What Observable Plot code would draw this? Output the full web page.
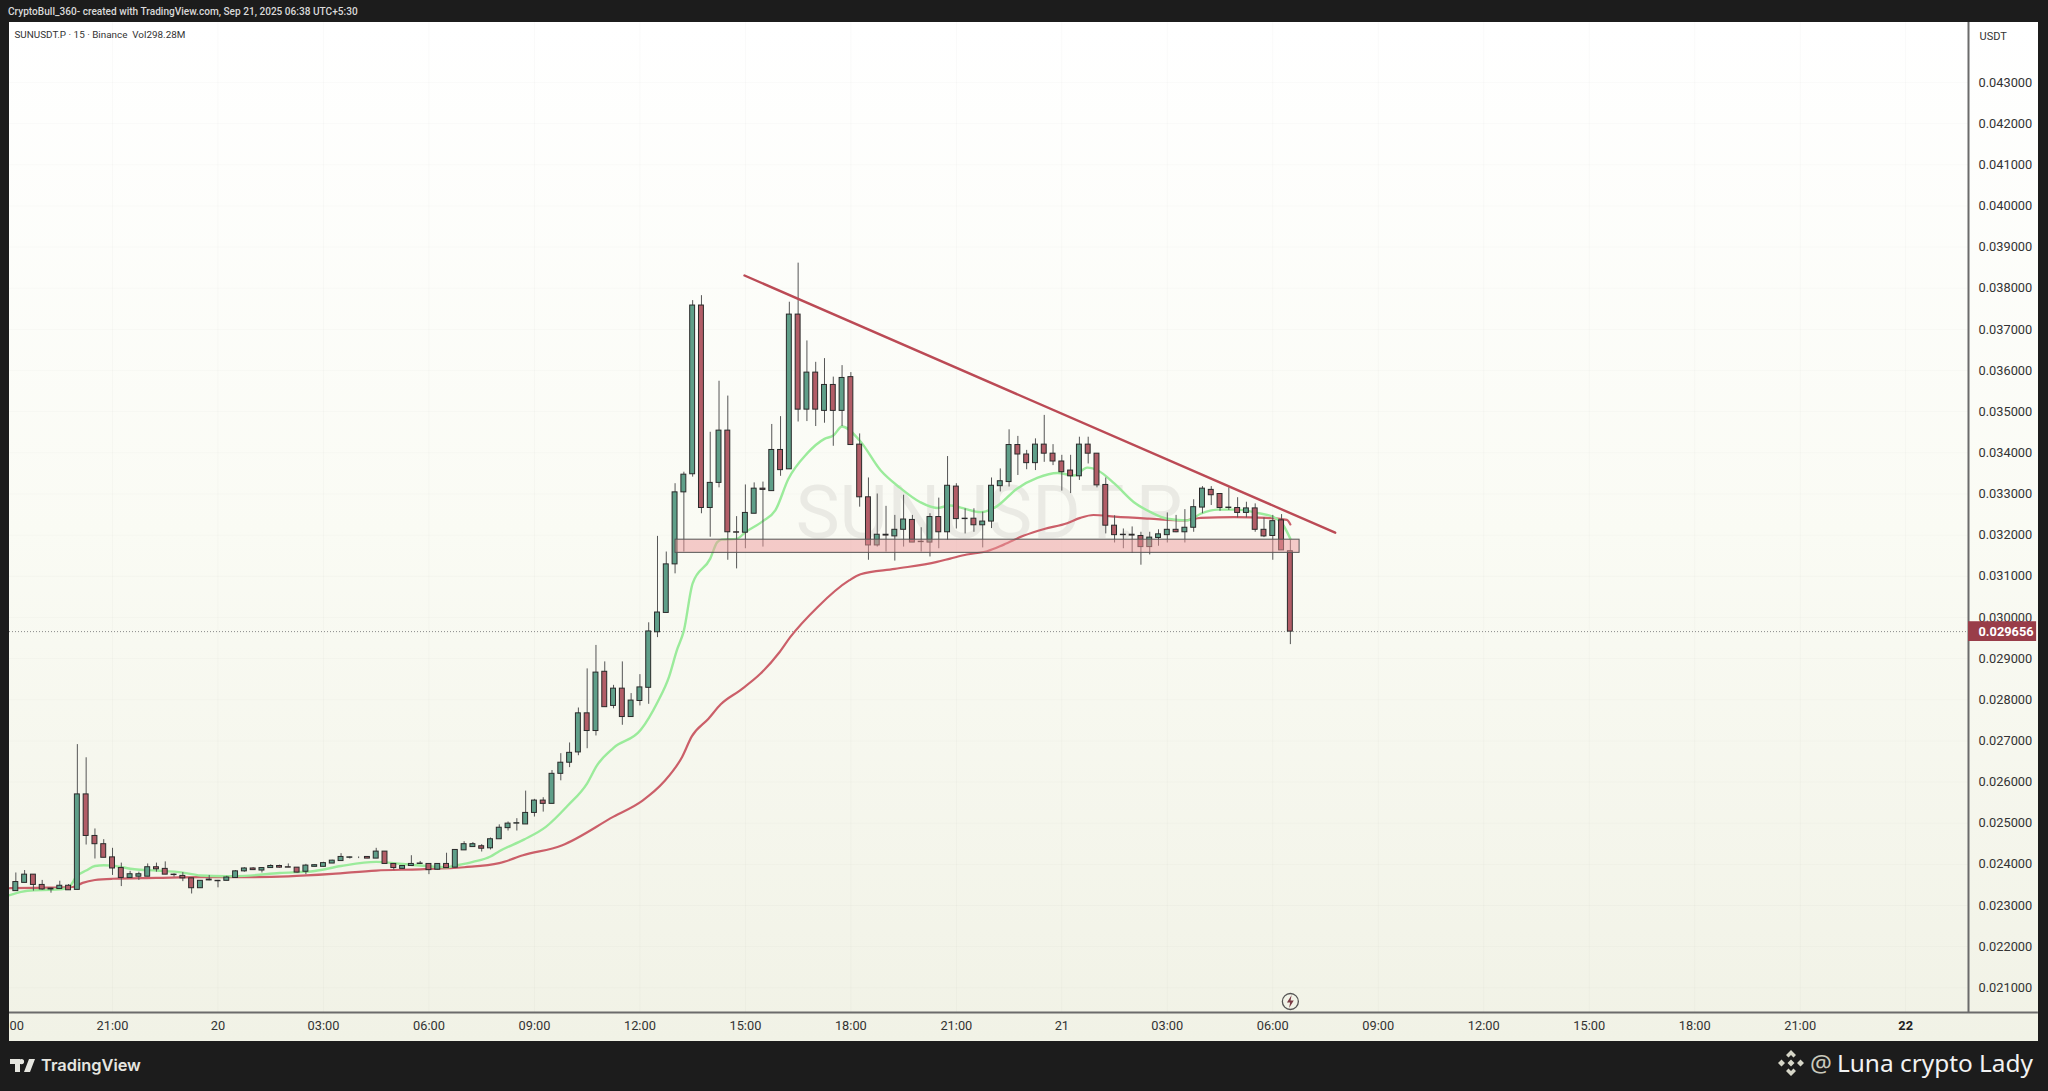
<!DOCTYPE html>
<html><head><meta charset="utf-8">
<script src="https://cdn.jsdelivr.net/npm/d3@7"></script>
<script src="https://cdn.jsdelivr.net/npm/@observablehq/plot@0.6"></script>
<style>
html,body{margin:0;padding:0;width:2048px;height:1091px;overflow:hidden;background:#1c1c1c}
#head{position:absolute;left:8px;top:6px;font:500 10.1px Roboto,sans-serif;color:#d9d9d9;white-space:nowrap}
#chart{position:absolute;left:9px;top:22px}
#tv{position:absolute;left:10px;top:1055px;font:600 16.4px Inter,sans-serif;color:#e6e6e0;display:flex;align-items:center;gap:6px}
#luna{position:absolute;right:15px;top:1046px;font:400 24.4px "Noto Sans",sans-serif;color:#f2f2f2;display:flex;align-items:center;gap:5px;white-space:nowrap}
#luna .at{color:#c9c9bd}
</style></head><body>
<div id="head">CryptoBull_360- created with TradingView.com, Sep 21, 2025 06:38 UTC+5:30</div>
<div id="chart"></div>
<div id="tv"><svg width="25" height="13" viewBox="0 0 25 13"><path fill="#e6e6e0" d="M0 0h10v13H5V5H0zM11.5 0a2.6 2.6 0 1 1 0 5.2a2.6 2.6 0 0 1 0-5.2zM19 0h6l-5 13h-6z"/></svg><span>TradingView</span></div>
<div id="luna"><svg width="28" height="28" viewBox="0 0 28 28"><g fill="#d6d6c8"><path d="M14 1l5 5-2.5 2.5L14 6l-2.5 2.5L9 6zM14 27l-5-5 2.5-2.5L14 22l2.5-2.5L19 22zM1 14l3.5-3.5L8 14l-3.5 3.5zM27 14l-3.5 3.5L20 14l3.5-3.5zM14 10.5l3.5 3.5-3.5 3.5-3.5-3.5z"/></g></svg><span class="at">@</span><span>Luna crypto Lady</span></div>
<script>
const symbolLegend = "SUNUSDT.P · 15 · Binance\u00a0 Vol298.28M";
const watermark = "SUNUSDT.P";
const currency = "USDT";
const firstIndex = -11;
const open = [0.02335,0.02355,0.02375,0.0235,0.02341,0.0234,0.02348,0.02338,0.0257,0.02469,0.02449,0.02417,0.02391,0.02367,0.0237,0.0237,0.02393,0.02389,0.02375,0.02372,0.02366,0.02342,0.02363,0.0236,0.0236,0.02367,0.02383,0.0239,0.02385,0.02391,0.02396,0.02393,0.02392,0.02382,0.02394,0.02394,0.02402,0.02408,0.02416,0.02417,0.02418,0.02414,0.02431,0.02401,0.02389,0.02396,0.02402,0.02401,0.02387,0.02401,0.02392,0.02434,0.02442,0.02444,0.02439,0.02461,0.02488,0.02499,0.02497,0.02525,0.02555,0.02547,0.0262,0.02647,0.02672,0.02767,0.02724,0.02868,0.02785,0.02827,0.02758,0.02797,0.02829,0.02964,0.03011,0.03129,0.03304,0.03348,0.03758,0.03266,0.03327,0.03454,0.03207,0.03206,0.03252,0.03313,0.03307,0.03407,0.0336,0.03736,0.03505,0.03595,0.03502,0.03565,0.03502,0.03584,0.0342,0.03292,0.03175,0.03201,0.03197,0.03213,0.03237,0.03184,0.03182,0.03244,0.03207,0.03318,0.0324,0.0324,0.03224,0.03233,0.03319,0.03329,0.03419,0.03396,0.03375,0.0342,0.03398,0.03379,0.03357,0.03343,0.0342,0.03398,0.03322,0.03223,0.032,0.03201,0.03198,0.03171,0.03193,0.032,0.03213,0.03207,0.03218,0.03267,0.0331,0.033,0.03266,0.03266,0.03254,0.03265,0.03213,0.03198,0.03236,0.03161];
const high = [0.02379,0.02385,0.02375,0.02361,0.02342,0.02359,0.02351,0.02691,0.02659,0.02486,0.0246,0.02439,0.02403,0.02383,0.02381,0.02401,0.02403,0.02406,0.02377,0.0238,0.02366,0.0236,0.02373,0.02361,0.02371,0.02385,0.02392,0.02392,0.02392,0.02399,0.02398,0.02401,0.02392,0.024,0.02399,0.02405,0.0241,0.02426,0.02418,0.02418,0.02419,0.02439,0.02431,0.02401,0.02397,0.02421,0.02407,0.02401,0.02402,0.02427,0.02436,0.02455,0.02453,0.02448,0.02464,0.02496,0.02503,0.02511,0.02578,0.02558,0.02562,0.02628,0.02669,0.02695,0.0278,0.02875,0.02932,0.02892,0.02835,0.02892,0.02815,0.02861,0.02987,0.03197,0.03159,0.03325,0.03353,0.0377,0.03782,0.0345,0.03574,0.03538,0.03245,0.03322,0.03327,0.03329,0.03469,0.03488,0.03766,0.03861,0.03672,0.0362,0.03629,0.03584,0.03612,0.03595,0.03446,0.03339,0.033,0.0327,0.03248,0.03297,0.03248,0.03218,0.03252,0.0329,0.03391,0.03325,0.03264,0.03264,0.03256,0.03339,0.03361,0.03456,0.0344,0.03406,0.03434,0.03491,0.0342,0.03394,0.03394,0.03438,0.03438,0.03398,0.03339,0.03247,0.03215,0.0322,0.03207,0.03207,0.03213,0.03254,0.03248,0.03262,0.03286,0.03318,0.03318,0.033,0.03315,0.03291,0.0328,0.03276,0.03242,0.03248,0.0325,0.03187];
const low = [0.02335,0.02355,0.02335,0.02337,0.0233,0.0234,0.02337,0.02338,0.02447,0.02413,0.02416,0.02373,0.02346,0.02367,0.02361,0.0237,0.02381,0.02375,0.02369,0.02358,0.02328,0.02342,0.0236,0.02343,0.0236,0.02367,0.02381,0.02385,0.02379,0.02391,0.02391,0.02392,0.02379,0.02375,0.02394,0.02394,0.02402,0.02408,0.02413,0.02414,0.02414,0.02414,0.02401,0.02386,0.02389,0.02396,0.024,0.02375,0.02386,0.02391,0.02392,0.02434,0.02442,0.0243,0.02435,0.02461,0.02481,0.02481,0.02497,0.02515,0.02527,0.02547,0.02603,0.02635,0.02664,0.02681,0.02712,0.02782,0.02778,0.02738,0.02758,0.02785,0.02789,0.02951,0.03011,0.03106,0.03159,0.03341,0.03252,0.03195,0.03315,0.03139,0.03118,0.03167,0.03252,0.03171,0.03307,0.03343,0.0336,0.03475,0.03476,0.03464,0.03472,0.03416,0.03464,0.03419,0.03268,0.03139,0.03171,0.03159,0.03137,0.03171,0.03182,0.03159,0.03147,0.03167,0.03187,0.03215,0.03203,0.03207,0.03169,0.03216,0.03305,0.03317,0.03345,0.03359,0.03357,0.03377,0.03369,0.03307,0.03301,0.03333,0.03373,0.03315,0.03203,0.03181,0.03167,0.03156,0.03127,0.03152,0.03173,0.03181,0.03206,0.03181,0.03207,0.03252,0.03272,0.03258,0.0326,0.03242,0.03242,0.03207,0.03194,0.03139,0.03163,0.02934];
const close = [0.02357,0.02375,0.0235,0.02339,0.02339,0.02348,0.02337,0.0257,0.02469,0.02449,0.02416,0.0239,0.02367,0.02376,0.02376,0.02393,0.02388,0.02375,0.02374,0.02366,0.02342,0.0236,0.02361,0.02359,0.02368,0.02383,0.0239,0.02386,0.02391,0.02396,0.02392,0.02392,0.0238,0.02397,0.02398,0.02403,0.02409,0.02418,0.02417,0.02417,0.02414,0.02431,0.02401,0.02391,0.02396,0.02401,0.02401,0.02386,0.02401,0.02391,0.02435,0.02449,0.02449,0.02438,0.02461,0.02489,0.02499,0.025,0.02525,0.02555,0.02547,0.0262,0.02647,0.02671,0.02767,0.02724,0.02866,0.02782,0.02827,0.02758,0.02798,0.0283,0.02966,0.03012,0.03129,0.03304,0.03347,0.03758,0.03266,0.03327,0.03454,0.03207,0.03206,0.03254,0.03313,0.0331,0.03407,0.03358,0.03736,0.03505,0.03595,0.03505,0.03565,0.03502,0.03582,0.03419,0.03292,0.03175,0.03201,0.03199,0.03213,0.03238,0.03182,0.03183,0.03244,0.03207,0.0332,0.03239,0.03239,0.03224,0.03233,0.0332,0.03331,0.03419,0.03396,0.03375,0.0342,0.03398,0.03379,0.03353,0.03343,0.0342,0.03398,0.03321,0.03223,0.032,0.03201,0.03199,0.03171,0.03194,0.03202,0.03213,0.03207,0.03218,0.03268,0.03313,0.03297,0.03266,0.03267,0.03254,0.03265,0.03213,0.03197,0.03234,0.03163,0.029656];
const fastEmaAt = [-11.7,-10.4,-8.9,-7,-5.1,-4,-3,-2,-1,0,2.5,5,8,10,13,15,19,23,26,30,33,38,39,41,43,44,46.8,49.3,51.8,54,55.1,57,60.1,62,63.3,64.2,65,66,68,68.8,69.3,71,72,74,75.4,76.9,79,81,82,83,85,87.4,89.6,91.9,93.8,95.3,96.5,98.8,100.6,102.9,105.2,107.5,109.4,110.9,112.2,114,116.2,118.1,120,122.3,123.8,125.7,128,130.2,132.1,133.2,134];
const fastEma = [0.02325,0.02333,0.02337,0.02338,0.02342,0.02373,0.02385,0.02396,0.02398,0.02397,0.02388,0.02385,0.0238,0.02373,0.02371,0.02372,0.02379,0.02384,0.02396,0.02406,0.02401,0.02393,0.02397,0.02406,0.02419,0.02432,0.0246,0.02491,0.02543,0.02597,0.0264,0.02683,0.02727,0.02794,0.02855,0.0292,0.02968,0.03083,0.03143,0.03183,0.03189,0.03191,0.03207,0.03234,0.0326,0.03337,0.03398,0.03434,0.03442,0.03464,0.0343,0.03357,0.03315,0.0328,0.03266,0.03272,0.03267,0.03256,0.0327,0.03313,0.03339,0.03351,0.03345,0.03364,0.03356,0.03325,0.0328,0.03256,0.0324,0.03236,0.03252,0.03262,0.03262,0.03254,0.03244,0.03224,0.03191];
const slowEmaAt = [-11.7,-9,-4.5,-3.4,-2,0,5,10,15,20,25,30,35,40,44,46.7,51.1,57,60.3,62.7,64.8,65.9,67.8,69.2,71.4,73.7,75.9,77.1,80.2,83.8,85.1,89,93.8,95.3,97.2,99.5,101.4,103.7,106,108.6,110.1,111.6,114,118,121.9,123.8,127.6,131.3,133.6,134];
const slowEma = [0.02342,0.02343,0.02345,0.02355,0.02362,0.02365,0.02367,0.02369,0.02369,0.02371,0.02377,0.02385,0.02388,0.02393,0.02403,0.02422,0.02446,0.02516,0.02555,0.026,0.02661,0.02711,0.02754,0.02789,0.02823,0.02863,0.02916,0.02952,0.03025,0.0309,0.03105,0.03118,0.03135,0.03143,0.03153,0.03161,0.03177,0.03199,0.03215,0.03229,0.03242,0.03249,0.03245,0.0324,0.03236,0.03242,0.03244,0.03242,0.03237,0.03226];
const trendLineAt = [71.9,139.1];
const trendLine = [0.03831,0.03206];
const zoneFrom = 64.05, zoneTo = 135.05;
const zoneTop = 0.03189, zoneBottom = 0.03157;
const lastPrice = 0.029656;
const priceTicks = [0.021,0.022,0.023,0.024,0.025,0.026,0.027,0.028,0.029,0.03,0.031,0.032,0.033,0.034,0.035,0.036,0.037,0.038,0.039,0.04,0.041,0.042,0.043];
const timeTickAt = [-10.9,0,12,24,36,48,60,72,84,96,108,120,132,144,156,168,180,192];
const timeTickLabels = ["00","21:00","20","03:00","06:00","09:00","12:00","15:00","18:00","21:00","21","03:00","06:00","09:00","12:00","15:00","18:00","21:00"];
const dayTickAt = [204];
const dayTickLabels = ["22"];
const eventAt = [134];

const candles = open.map((o,k)=>({i:firstIndex+k,open:o,high:high[k],low:low[k],close:close[k],dir:close[k]>=o?"up":"down"}));
const fast = fastEma.map((v,k)=>({i:fastEmaAt[k],v}));
const slow = slowEma.map((v,k)=>({i:slowEmaAt[k],v}));
const trend = trendLine.map((v,k)=>({i:trendLineAt[k],v}));
const xMin=-11.72, xMax=211.15, xPanel=219.1;
const yMin=0.0204, yMax=0.044458;
const bolt={draw(c,s){const r=Math.sqrt(s);c.moveTo(r*.12,-r*.6);c.lineTo(-r*.32,r*.1);c.lineTo(-r*.02,r*.1);c.lineTo(-r*.12,r*.6);c.lineTo(r*.32,-r*.1);c.lineTo(r*.02,-r*.1);c.closePath();}};

const chart = Plot.plot({
  width:2029,height:1019,marginLeft:0,marginRight:70,marginTop:0,marginBottom:29,
  style:{background:"linear-gradient(to bottom,#ffffff 0%,#fafbf4 50%,#f1f2e6 100%)",fontFamily:"Roboto,sans-serif",color:"#333"},
  x:{type:"linear",domain:[xMin,xMax],label:null},
  y:{domain:[yMin,yMax],label:null},
  color:{domain:["up","down"],range:["#5f9f89","#b25d67"]},
  marks:[
    Plot.ruleX(timeTickAt.slice(1).concat(dayTickAt),{stroke:"#000",strokeOpacity:0.025}),
    Plot.ruleY(priceTicks,{stroke:"#000",strokeOpacity:0.02}),
    Plot.text([watermark],{frameAnchor:"middle",fontSize:74,fill:"#eaeae4",fontFamily:"Roboto,sans-serif",dy:-3}),
    Plot.ruleY([lastPrice],{stroke:"#8a8a8a",strokeDasharray:"1 2"}),
    Plot.line(slow,{x:"i",y:"v",stroke:"#cb5f69",strokeWidth:2.2,curve:"monotone-x"}),
    Plot.line(fast,{x:"i",y:"v",stroke:"#9beb9b",strokeWidth:2.4,curve:"monotone-x"}),
    Plot.ruleX(candles,{x:"i",y1:"low",y2:"high",stroke:"#555",strokeWidth:1}),
    Plot.rect(candles,{x1:d=>d.i-0.28,x2:d=>d.i+0.28,y1:"open",y2:"close",fill:"dir",stroke:"#2a2a2a",strokeWidth:1}),
    Plot.rect([{}],{x1:()=>zoneFrom,x2:()=>zoneTo,y1:()=>zoneBottom,y2:()=>zoneTop,fill:"#ee9a9c",fillOpacity:0.5,stroke:"#555",strokeWidth:1}),
    Plot.line(trend,{x:"i",y:"v",stroke:"#bb4a55",strokeWidth:2.4}),
    Plot.dot(eventAt,{x:d=>d,frameAnchor:"bottom",dy:-11,r:8,stroke:"#555",fill:"none",strokeWidth:1.3}),
    Plot.dot(eventAt,{x:d=>d,frameAnchor:"bottom",dy:-11,r:6,symbol:bolt,fill:"#7a3a44",stroke:"none"}),
    Plot.ruleX([xMax],{stroke:"#6b6b6b",strokeWidth:2}),
    Plot.ruleY([yMin],{x1:xMin,x2:xPanel,stroke:"#6b6b6b",strokeWidth:2}),
    Plot.axisY({anchor:"right",ticks:priceTicks,tickFormat:d3.format(".6f"),tickSize:0,tickPadding:10,fontSize:12.8,fill:"#333",label:null}),
    Plot.axisX({anchor:"bottom",ticks:timeTickAt,tickFormat:d=>timeTickLabels[timeTickAt.indexOf(d)],tickSize:0,tickPadding:8,fontSize:12.8,fill:"#333",label:null}),
    Plot.axisX({anchor:"bottom",ticks:dayTickAt,tickFormat:d=>dayTickLabels[dayTickAt.indexOf(d)],tickSize:0,tickPadding:8,fontSize:12.8,fontWeight:700,fill:"#222",label:null}),
    Plot.rect([lastPrice],{x1:()=>xMax,x2:()=>xPanel-0.2,y1:d=>d-0.00024,y2:d=>d+0.00024,fill:"#993d49"}),
    Plot.text([lastPrice],{x:()=>xMax,y:d=>d,text:d=>d3.format(".6f")(d),dx:10,textAnchor:"start",fill:"#fff",fontSize:12.8,fontWeight:700}),
    Plot.text([symbolLegend],{frameAnchor:"top-left",dx:5,dy:8,textAnchor:"start",fontSize:9.9,fill:"#333"}),
    Plot.text([currency],{frameAnchor:"top-right",dx:11,dy:10,textAnchor:"start",fontSize:11,fill:"#333"})
  ]
});
document.getElementById("chart").appendChild(chart);
</script>
</body></html>
